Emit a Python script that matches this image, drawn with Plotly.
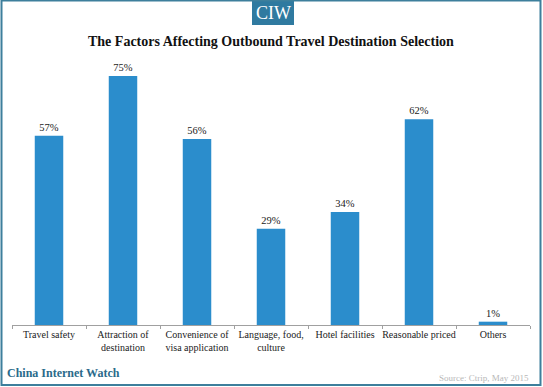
import plotly.graph_objects as go

categories = ["Travel safety", "Attraction of<br>destination", "Convenience of<br>visa application",
              "Language, food,<br>culture", "Hotel facilities", "Reasonable priced", "Others"]
values = [57, 75, 56, 29, 34, 62, 1]
value_labels = [f"{v}%" for v in values]

W, H = 543, 387
L, R, T, B = 12, 13, 59, 62
pw, ph = W - L - R, H - T - B

def px(x):
    return (x - L) / pw

def py(y):
    return (H - B - y) / ph

serif = "Liberation Serif"

fig = go.Figure(go.Bar(
    x=categories, y=values, text=value_labels, textposition="outside",
    textfont=dict(family=serif, size=10.5, color="#222"),
    outsidetextfont=dict(family=serif, size=10.5, color="#222"),
    marker=dict(color="#2b8dcc", line=dict(width=0)),
    width=0.385, cliponaxis=False, hoverinfo="skip",
))

fig.update_layout(
    width=W, height=H,
    margin=dict(l=L, r=R, t=T, b=B, autoexpand=False),
    paper_bgcolor="white", plot_bgcolor="white",
    showlegend=False,
    font=dict(family=serif, color="#222"),
    xaxis=dict(showline=True, linecolor="#a0a0a0", linewidth=1, ticks="outside", tickson="boundaries",
               ticklen=3, tickcolor="#a0a0a0", tickangle=0, automargin=False,
               tickfont=dict(family=serif, size=10, color="#222"),
               showgrid=False, fixedrange=True),
    yaxis=dict(range=[0, ph / 3.32], visible=False, showgrid=False, fixedrange=True),
    annotations=[
        dict(text="<b>The Factors Affecting Outbound Travel Destination Selection</b>",
             x=px(271), y=py(41.5), xref="paper", yref="paper", showarrow=False,
             font=dict(family=serif, size=14, color="#111"), xanchor="center", yanchor="middle"),
        dict(text="CIW", x=px(273), y=py(13), xref="paper", yref="paper", showarrow=False,
             font=dict(family=serif, size=18, color="white"), xanchor="center", yanchor="middle"),
        dict(text="<b>China Internet Watch</b>", x=px(5), y=py(373), xref="paper", yref="paper",
             showarrow=False, font=dict(family=serif, size=12, color="#2a6a8a"),
             xanchor="left", yanchor="middle"),
        dict(text="Source: Ctrip, May 2015", x=px(531), y=py(378), xref="paper", yref="paper",
             showarrow=False, font=dict(family=serif, size=9, color="#b8b8b8"),
             xanchor="right", yanchor="middle"),
    ],
    shapes=[
        dict(type="rect", xref="paper", yref="paper", x0=px(252), x1=px(294), y0=py(25), y1=py(-2),
             fillcolor="#2f7aa0", line=dict(width=0), layer="below"),
        dict(type="rect", xref="paper", yref="paper", x0=px(1.5), x1=px(540.5), y0=py(385), y1=py(0.5),
             fillcolor="rgba(0,0,0,0)", line=dict(color="#3d7f9c", width=2)),
    ],
)

fig.write_html("out.html", config={"displayModeBar": False, "staticPlot": True},
               post_script="document.body.style.margin='0';document.body.style.overflow='hidden';")
